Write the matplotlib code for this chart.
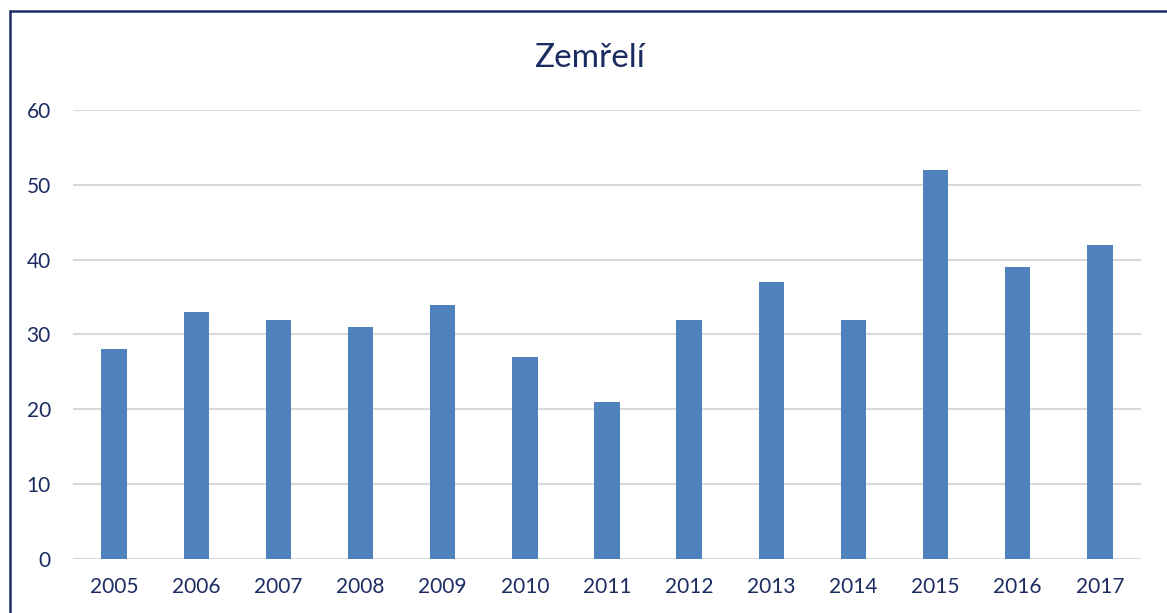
import matplotlib.pyplot as plt
from matplotlib.patches import Rectangle

years = ["2005", "2006", "2007", "2008", "2009", "2010", "2011",
         "2012", "2013", "2014", "2015", "2016", "2017"]
deaths = [28, 33, 32, 31, 34, 27, 21, 32, 37, 32, 52, 39, 42]

navy = "#1b2c62"
plt.rcParams['font.family'] = ['Lato', 'DejaVu Sans']

fig = plt.figure(figsize=(11.67, 6.13), dpi=100)
ax = fig.add_axes([0.0626, 0.0881, 0.915, 0.7325])

ax.bar(range(len(years)), deaths, width=0.31, color="#4f81bd", zorder=3)
ax.set_xlim(-0.5, len(years) - 0.5)
ax.set_ylim(0, 60)
ax.set_yticks(range(0, 61, 10))
ax.set_xticks(range(len(years)))
ax.set_xticklabels(years)
ax.grid(axis="y", color="#d9d9d9", linewidth=1.5, zorder=0)
for s in ax.spines.values():
    s.set_visible(False)
ax.tick_params(length=0, labelsize=15, labelcolor=navy)
ax.tick_params(axis="y", pad=16)
ax.tick_params(axis="x", pad=13)
for lbl in ax.get_yticklabels():
    lbl.set_horizontalalignment("right")

fig.text(0.505, 0.906, "Zemřelí", ha="center", va="center", fontsize=24, color=navy)

# frame around the chart
fig.patches.append(Rectangle((0.0086, -0.05), 1.1, 0.032 + 0.05 + 0.95, transform=fig.transFigure,
                             fill=False, edgecolor=navy, linewidth=1.8))

fig.savefig("out.png", dpi=100)
